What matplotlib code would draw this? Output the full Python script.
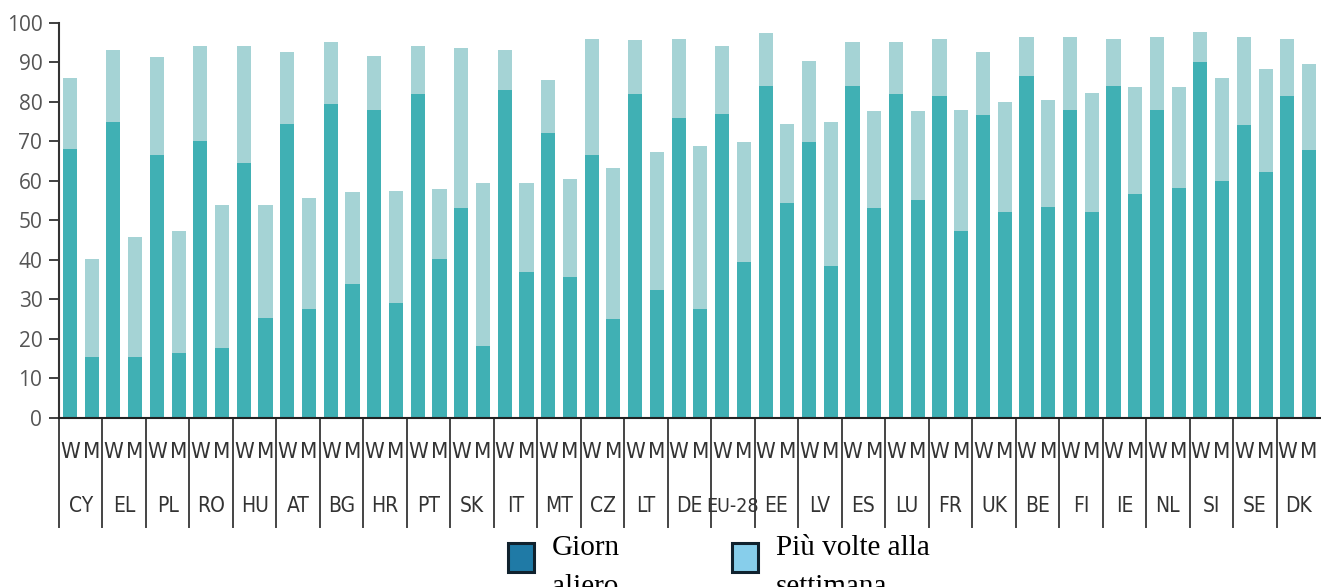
import numpy as np
import matplotlib
matplotlib.use("Agg")
import matplotlib.pyplot as plt
from matplotlib import font_manager
from matplotlib.patches import Rectangle
import matplotlib.transforms as mtransforms

# ── Data ──────────────────────────────────────────────────────────────────────
countries = ["CY", "EL", "PL", "RO", "HU", "AT", "BG", "HR", "PT", "SK",
             "IT", "MT", "CZ", "LT", "DE", "EU-28", "EE", "LV", "ES", "LU",
             "FR", "UK", "BE", "FI", "IE", "NL", "SI", "SE", "DK"]
sexes = ["W", "M"]

# daily (giornaliero), per country: [W, M]
daily_w = [68, 75, 66.5, 70, 64.5, 74.5, 79.5, 78, 82, 53,
           83, 72, 66.5, 82, 76, 77, 84, 69.7, 84, 82,
           81.5, 76.7, 86.5, 78, 84, 78, 90, 74, 81.5]
daily_m = [15.5, 15.5, 16.5, 17.8, 25.3, 27.6, 33.8, 29.1, 40.3, 18.3,
           37, 35.6, 25, 32.4, 27.6, 39.4, 54.3, 38.4, 53, 55.2,
           47.3, 52, 53.4, 52, 56.7, 58.1, 60, 62.3, 67.9]
# total (daily + several times a week)
total_w = [86, 93.1, 91.2, 94, 94, 92.6, 95, 91.7, 94, 93.6,
           93.1, 85.6, 95.9, 95.5, 95.9, 94, 97.3, 90.4, 95, 95,
           95.9, 92.7, 96.4, 96.4, 95.9, 96.4, 97.7, 96.4, 95.9]
total_m = [40.3, 45.9, 47.3, 53.8, 53.8, 55.7, 57.1, 57.5, 58, 59.5,
           59.5, 60.4, 63.2, 67.4, 68.8, 69.7, 74.4, 74.8, 77.7, 77.7,
           78, 80, 80.5, 82.3, 83.8, 83.8, 86, 88.4, 89.5]

legend_labels = [["Giorn", "aliero"], ["Più volte alla", "settimana"]]

# ── Arrange W/M bars ─────────────────────────────────────────────────────────
daily = np.ravel(np.column_stack([daily_w, daily_m]))
total = np.ravel(np.column_stack([total_w, total_m]))
weekly = total - daily
x = np.arange(len(daily))

C_DAILY  = "#40b0b4"
C_WEEKLY = "#a5d3d5"

# narrow sans for the category labels, if one is installed
narrow = None
for f in font_manager.fontManager.ttflist:
    nm = f.fname.lower()
    if ("condensed" in nm or "narrow" in nm) and "serif" not in nm \
            and "bold" not in nm and "oblique" not in nm and "italic" not in nm:
        narrow = f.fname
        break
NARROW_PROPS = (dict(fontproperties=font_manager.FontProperties(fname=narrow))
                if narrow else dict(family="DejaVu Sans"))
NARROW_SCALE = 1.0 if narrow else 0.9

# ── Plot ──────────────────────────────────────────────────────────────────────
W_PX, H_PX = 1321, 587
AX_H = 418 - 22.7
fig = plt.figure(figsize=(W_PX / 100, H_PX / 100), dpi=100)
ax = fig.add_axes([59 / W_PX, 1 - 418 / H_PX, (1320 - 59) / W_PX, AX_H / H_PX])

ax.bar(x, daily, width=0.65, color=C_DAILY, linewidth=0)
ax.bar(x, weekly, bottom=daily, width=0.65, color=C_WEEKLY, linewidth=0)

ax.set_xlim(-0.5, len(x) - 0.5)
ax.set_ylim(0, 100)
ax.set_yticks(range(0, 101, 10))
ax.set_xticks([])
ax.tick_params(axis="y", direction="out", length=7, width=1.3, color="#333333",
               labelsize=15, labelcolor="#555555", pad=5)
for lab in ax.get_yticklabels():
    lab.set_family("Open Sans")

for side in ("top", "right"):
    ax.spines[side].set_visible(False)
ax.spines["left"].set_color("#333333")
ax.spines["left"].set_linewidth(1.5)
ax.spines["bottom"].set_color("#222222")
ax.spines["bottom"].set_linewidth(1.5)

# category axis below the bars
trans = mtransforms.blended_transform_factory(ax.transData, ax.transAxes)
sep_bottom = -(527 - 418) / AX_H
for b in np.arange(-0.5, len(x) - 1, 2):
    ax.plot([b, b], [0, sep_bottom], transform=trans, color="#444444",
            linewidth=1.4, clip_on=False)

for i, xi in enumerate(x):
    t = ax.text(xi, -(452 - 418) / AX_H, sexes[i % 2], transform=trans,
                ha="center", va="center", color="#333333", **NARROW_PROPS)
    t.set_fontsize(16 * NARROW_SCALE)

for k, c in enumerate(countries):
    t = ax.text(2 * k + 0.5, -(506 - 418) / AX_H, c, transform=trans,
                ha="center", va="center", color="#333333", **NARROW_PROPS)
    t.set_fontsize((15 if narrow else 12.5) if c != "EU-28" else (14 if narrow else 11))

# legend (drawn by hand, partly cut off at the bottom as in the source)
leg_items = [(507.5, "#1f7aa6", legend_labels[0], 552),
             (731.5, "#87ceeb", legend_labels[1], 776)]
for px, col, lines, tx in leg_items:
    fig.patches.append(Rectangle((px / W_PX, 1 - 571.5 / H_PX), 26 / W_PX, 29 / H_PX,
                                 transform=fig.transFigure, facecolor=col,
                                 edgecolor="#10222e", linewidth=2.2))
    for j, line in enumerate(lines):
        fig.text(tx / W_PX, 1 - (555 + 39 * j) / H_PX, line, ha="left",
                 va="baseline", fontsize=21, family="Liberation Serif",
                 color="black")

fig.savefig("out.png", dpi=100)
